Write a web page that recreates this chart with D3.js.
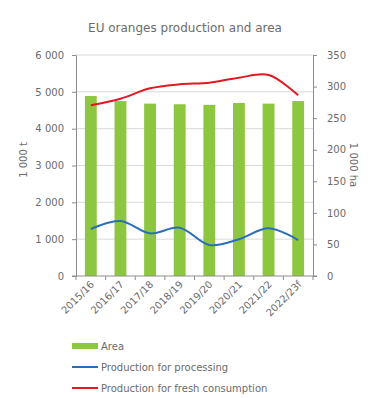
<!DOCTYPE html>
<html>
<head>
<meta charset="utf-8">
<script src="https://cdn.jsdelivr.net/npm/d3@7"></script>
<style>
  body { margin: 0; background: #fff; }
  svg { display: block; }
  text { font-family: "DejaVu Sans", Verdana, sans-serif; fill: #6b6b6b; }
</style>
</head>
<body>
<div id="chart"></div>
<script>
// Data
const seasons = ['2015/16', '2016/17', '2017/18', '2018/19', '2019/20', '2020/21', '2021/22', '2022/23f'];
const area = [285, 277, 273, 272, 271, 274, 273, 277];           // 1 000 ha
const processing = [1276, 1493, 1158, 1312, 842, 996, 1294, 977];  // 1 000 t
const fresh = [4634, 4814, 5096, 5204, 5249, 5385, 5457, 4905];    // 1 000 t
const leftTicks = [0, 1000, 2000, 3000, 4000, 5000, 6000];
const rightTicks = [0, 50, 100, 150, 200, 250, 300, 350];

const width = 377, height = 398;
const margin = { top: 55, right: 64, bottom: 122, left: 76 };
const plotRight = width - margin.right;
const plotBottom = height - margin.bottom;

const fmt = d => d3.format(',')(d).replace(/,/g, ' ');

const svg = d3.select('#chart').append('svg')
  .attr('width', width)
  .attr('height', height);

// Scales (absolute svg coordinates)
const x = d3.scaleBand().domain(seasons).range([margin.left, plotRight]).paddingInner(0.6).paddingOuter(0.3);
const xPoint = d => x(d) + x.bandwidth() / 2;
const yLeft = d3.scaleLinear().domain([0, 6000]).range([plotBottom, margin.top]);
const yRight = d3.scaleLinear().domain([0, 350]).range([plotBottom, margin.top]);

// Gridlines
svg.append('g')
  .selectAll('line')
  .data(leftTicks.filter(d => d > 0))
  .enter()
  .append('line')
  .attr('x1', margin.left)
  .attr('x2', plotRight)
  .attr('y1', d => yLeft(d))
  .attr('y2', d => yLeft(d))
  .attr('stroke', '#d9d9d9')
  .attr('stroke-width', 1);

// Bars (area, right axis)
svg.append('g')
  .selectAll('rect')
  .data(seasons)
  .enter()
  .append('rect')
  .attr('x', d => x(d))
  .attr('width', x.bandwidth())
  .attr('y', (d, i) => yRight(area[i]))
  .attr('height', (d, i) => plotBottom - yRight(area[i]))
  .attr('fill', '#8dc63f');

// Lines
const line = d3.line()
  .x((d, i) => xPoint(seasons[i]))
  .y(d => yLeft(d))
  .curve(d3.curveCatmullRom.alpha(0.5));

svg.append('path')
  .datum(processing)
  .attr('fill', 'none')
  .attr('stroke', '#2a6ebb')
  .attr('stroke-width', 2)
  .attr('d', line);

svg.append('path')
  .datum(fresh)
  .attr('fill', 'none')
  .attr('stroke', '#e3191f')
  .attr('stroke-width', 2)
  .attr('d', line);

// Axes
const axisColor = '#8c8c8c';
const styleAxis = sel => {
  sel.attr('font-family', null).attr('font-size', null);
  sel.selectAll('.domain').attr('stroke', axisColor);
  sel.selectAll('.tick line').attr('stroke', axisColor);
  sel.selectAll('.tick text').style('font-size', '10px');
};

const leftAxis = svg.append('g')
  .attr('transform', `translate(${margin.left},0)`)
  .call(d3.axisLeft(yLeft).tickValues(leftTicks).tickFormat(fmt).tickSize(4).tickSizeOuter(0).tickPadding(8));
styleAxis(leftAxis);

const rightAxis = svg.append('g')
  .attr('transform', `translate(${plotRight},0)`)
  .call(d3.axisRight(yRight).tickValues(rightTicks).tickSize(4).tickSizeOuter(0).tickPadding(10));
styleAxis(rightAxis);

// X axis with ticks at band boundaries
const step = (plotRight - margin.left) / seasons.length;
svg.append('line')
  .attr('x1', margin.left - 4).attr('x2', plotRight + 4)
  .attr('y1', plotBottom).attr('y2', plotBottom)
  .attr('stroke', axisColor);
svg.append('g')
  .selectAll('line')
  .data(d3.range(seasons.length + 1))
  .enter()
  .append('line')
  .attr('x1', i => margin.left + i * step)
  .attr('x2', i => margin.left + i * step)
  .attr('y1', plotBottom)
  .attr('y2', plotBottom + 4)
  .attr('stroke', axisColor);
svg.append('g')
  .selectAll('text')
  .data(seasons)
  .enter()
  .append('text')
  .attr('text-anchor', 'end')
  .attr('x', d => xPoint(d) + 4)
  .attr('y', plotBottom + 9)
  .attr('transform', d => `rotate(-45,${xPoint(d) + 4},${plotBottom + 9})`)
  .style('font-size', '10px')
  .text(d => d);

// Axis titles
svg.append('text')
  .attr('transform', `translate(27,160) rotate(-90)`)
  .attr('text-anchor', 'middle')
  .style('font-size', '10px')
  .text('1 000 t');

svg.append('text')
  .attr('transform', `translate(350,165) rotate(90)`)
  .attr('text-anchor', 'middle')
  .style('font-size', '10px')
  .text('1 000 ha');

// Title
svg.append('text')
  .attr('x', 185)
  .attr('y', 32)
  .attr('text-anchor', 'middle')
  .style('font-size', '12px')
  .attr('fill', '#555')
  .text('EU oranges production and area');

// Legend
const legendItems = [
  { label: 'Area', color: '#8dc63f', type: 'bar' },
  { label: 'Production for processing', color: '#2a6ebb', type: 'line' },
  { label: 'Production for fresh consumption', color: '#e3191f', type: 'line' }
];
const legend = svg.append('g').attr('transform', 'translate(72,346)');
legendItems.forEach((item, i) => {
  const row = legend.append('g').attr('transform', `translate(0,${i * 21})`);
  row.append('rect')
    .attr('x', 0)
    .attr('y', item.type === 'bar' ? -3 : -1)
    .attr('width', 26)
    .attr('height', item.type === 'bar' ? 6 : 2)
    .attr('fill', item.color);
  row.append('text')
    .attr('x', 29)
    .attr('y', 3.5)
    .style('font-size', '10px')
    .text(item.label);
});
</script>
</body>
</html>
